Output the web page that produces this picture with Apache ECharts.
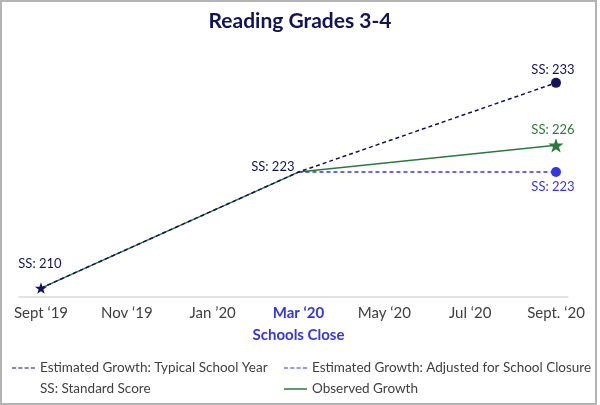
<!DOCTYPE html>
<html>
<head>
<meta charset="utf-8">
<script src="https://cdn.jsdelivr.net/npm/echarts@6/dist/echarts.min.js"></script>
<style>
  html, body { margin: 0; padding: 0; background: #fff; }
  #frame {
    position: absolute; left: 0; top: 0; width: 597px; height: 405px;
    box-sizing: border-box; border: 2px solid #b4b4b4;
  }
  #chart { position: absolute; left: 0; top: 0; width: 600px; height: 405px; }
</style>
</head>
<body>
<div id="chart"></div>
<div id="frame"></div>
<script>
// month labels, x position = index
var months = ["Sept \u201819", "Nov \u201819", "Jan \u201920", "Mar \u201820", "May \u201820", "Jul \u201820", "Sept. \u201820"];
var closeIndex = 3;

// standard scores
var typicalYear = [[0, 210], [3, 223], [6, 233]];
var observed = [[0, 210], [3, 223], [6, 226]];
var adjusted = [[3, 223], [6, 223]];

var navy = "#13135a";
var blue = "#3535e8";
var green = "#2b7a3b";
var gray = "#404040";
var font = "Lato";

var dashIcon = "path://M0,0h4v1h-4z M6,0h4v1h-4z M12,0h4v1h-4z M18,0h4v1h-4z";
var star = "path://M50,0L61.76,33.82L97.55,34.55L69.02,56.18L79.39,90.45L50,70L20.61,90.45L30.98,56.18L2.45,34.55L38.24,33.82Z";

var chart = echarts.init(document.getElementById("chart"));

function ssLabel(pos, color, offset) {
    return {
        show: true,
        position: pos,
        offset: offset || [0, 0],
        color: color,
        fontFamily: font,
        fontSize: 13,
        formatter: function (p) { return "SS: " + p.value[1]; }
    };
}

var legendText = { color: gray, fontFamily: font, fontSize: 13.5 };

var option = {
    animation: false,
    title: {
        text: "Reading Grades 3-4",
        left: "center",
        top: 6,
        textStyle: { color: navy, fontFamily: font, fontWeight: "bold", fontSize: 21 }
    },
    grid: { left: 19, right: 32, top: 65, bottom: 108 },
    xAxis: {
        type: "value",
        min: -0.256,
        max: 6.14,
        splitLine: { show: false },
        axisTick: { show: false },
        axisLine: { show: true, lineStyle: { color: "#d9d9d9", width: 1.5 } },
        axisLabel: {
            customValues: [0, 1, 2, 3, 4, 5, 6],
            margin: 5,
            fontFamily: font,
            fontSize: 15,
            color: gray,
            lineHeight: 22,
            formatter: function (v) {
                var i = Math.round(v);
                if (i === closeIndex) return "{b|" + months[i] + "}\n{b|Schools Close}";
                return months[i];
            },
            rich: {
                b: { color: blue, fontWeight: "bold", fontFamily: font, fontSize: 15, lineHeight: 22 }
            }
        }
    },
    yAxis: {
        type: "value",
        min: 209,
        max: 235,
        show: false
    },
    legend: [{
        orient: "vertical",
        left: 12,
        top: 361,
        padding: 0,
        itemWidth: 23,
        itemHeight: 1.5,
        itemGap: 7,
        textStyle: legendText,
        data: [
            { name: "Estimated Growth: Typical School Year", icon: dashIcon },
            { name: "SS: Standard Score", icon: "rect" }
        ]
    }, {
        orient: "vertical",
        left: 284,
        top: 361,
        padding: 0,
        itemWidth: 23,
        itemHeight: 1.5,
        itemGap: 7,
        textStyle: legendText,
        data: [
            { name: "Estimated Growth: Adjusted for School Closure", icon: dashIcon },
            { name: "Observed Growth", icon: "rect" }
        ]
    }],
    series: [
        {
            name: "Observed Growth",
            type: "line",
            color: green,
            lineStyle: { width: 1.5, color: green },
            symbol: "none",
            z: 2,
            data: observed.map(function (d, i) {
                if (i === observed.length - 1) {
                    return { value: d, symbol: star, symbolSize: 15, symbolKeepAspect: true, label: ssLabel("top", green, [-3, 3]) };
                }
                return d;
            })
        },
        {
            name: "Estimated Growth: Adjusted for School Closure",
            type: "line",
            color: blue,
            lineStyle: { width: 1.5, type: [4, 3], color: blue },
            symbol: "none",
            z: 3,
            data: adjusted.map(function (d, i) {
                if (i === adjusted.length - 1) {
                    return { value: d, symbol: "circle", symbolSize: 10, label: ssLabel("bottom", blue, [-3, -2]) };
                }
                return d;
            })
        },
        {
            name: "Estimated Growth: Typical School Year",
            type: "line",
            color: navy,
            lineStyle: { width: 1.5, type: [4, 3], color: navy },
            symbol: "none",
            z: 4,
            data: typicalYear.map(function (d, i) {
                if (i === 0) {
                    return { value: d, symbol: star, symbolSize: 12, symbolKeepAspect: true, label: ssLabel("top", navy, [-1, -7]) };
                }
                if (i === 1) {
                    return { value: d, symbol: "circle", symbolSize: 2, label: ssLabel("left", navy, [2, -5]) };
                }
                return { value: d, symbol: "circle", symbolSize: 10, label: ssLabel("top", navy, [-3, 3]) };
            })
        },
        {
            name: "SS: Standard Score",
            type: "line",
            color: "rgba(0,0,0,0)",
            data: []
        }
    ]
};

chart.setOption(option);
</script>
</body>
</html>
